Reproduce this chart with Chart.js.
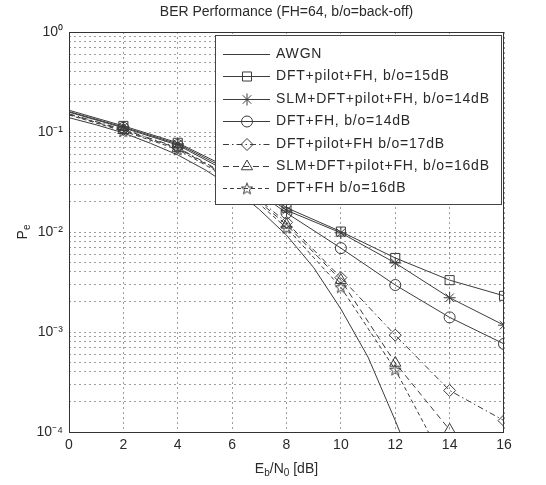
<!DOCTYPE html>
<html>
<head>
<meta charset="utf-8">
<script src="https://cdn.jsdelivr.net/npm/chart.js@4.4.1/dist/chart.umd.min.js"></script>
<style>
html,body{margin:0;padding:0;background:#fff;}
#wrap{width:546px;height:485px;position:relative;}
</style>
</head>
<body>
<div id="wrap"><canvas id="c" width="546" height="485"></canvas></div>
<script>
// ---------------- data ----------------
const chartTitle = 'BER Performance (FH=64, b/o=back-off)';
const snrDb = [0, 2, 4, 6, 8, 10, 12, 14, 16];
const xTickValues = [0, 2, 4, 6, 8, 10, 12, 14, 16];
const yDecadeLabels = ['10\u2070', '10\u207B\u00B9', '10\u207B\u00B2', '10\u207B\u00B3', '10\u207B\u2074'];

const awgnSnrDb = [0, 1, 2, 3, 4, 5, 6, 7, 8, 9, 10, 11, 12, 12.5];
const berAwgn   = [0.139, 0.118, 0.098, 0.077, 0.059, 0.042, 0.028, 0.0168, 0.0093, 0.0044, 0.0017, 0.00056, 0.00013, 0.00006];

const berPilot15 = [0.165, 0.115, 0.078, 0.042, 0.0175, 0.0101, 0.0055, 0.0033, 0.0023];
const berSlm14   = [0.160, 0.112, 0.076, 0.040, 0.0165, 0.0098, 0.0049, 0.0022, 0.00117];
const berDft14   = [0.158, 0.110, 0.074, 0.038, 0.0155, 0.0069, 0.00295, 0.0014, 0.00076];
const berPilot17 = [0.152, 0.106, 0.070, 0.035, 0.0125, 0.0035, 0.00093, 0.00026, 0.00013];
const berSlm16   = [0.150, 0.104, 0.069, 0.034, 0.0118, 0.0033, 0.00049, 0.000105, null];
const berDft16   = [0.148, 0.102, 0.067, 0.033, 0.0110, 0.0028, 0.00042, 0.00004, null];

const seriesNames = [
  'AWGN',
  'DFT+pilot+FH, b/o=15dB',
  'SLM+DFT+pilot+FH, b/o=14dB',
  'DFT+FH, b/o=14dB',
  'DFT+pilot+FH b/o=17dB',
  'SLM+DFT+pilot+FH, b/o=16dB',
  'DFT+FH b/o=16dB'
];

// ---------------- styling ----------------
const FONT = "'Liberation Sans', Arial, Helvetica, sans-serif";
const INK = '#2a2a2a';
const LINE = '#3c3c3c';

// pentagram marker image
function makePentagram(size, color) {
  const c = document.createElement('canvas');
  c.width = size; c.height = size;
  const g = c.getContext('2d');
  const cx = size / 2, cy = size / 2 + 0.5, R = size / 2 - 1, r = R * 0.42;
  g.beginPath();
  for (let i = 0; i < 10; i++) {
    const ang = -Math.PI / 2 + i * Math.PI / 5;
    const rr = i % 2 === 0 ? R : r;
    const px = cx + rr * Math.cos(ang), py = cy + rr * Math.sin(ang);
    if (i === 0) g.moveTo(px, py); else g.lineTo(px, py);
  }
  g.closePath();
  g.strokeStyle = color; g.lineWidth = 1; g.stroke();
  return c;
}
const pentagram = makePentagram(14, LINE);

function pts(xs, ys) { return xs.map((x, i) => ({ x: x, y: ys[i] })); }
const hideFirst = (r) => (ctx) => ctx.dataIndex === 0 ? 0 : r;

const styles = [
  { pointStyle: false, radius: 0, dash: [] },
  { pointStyle: 'rect', radius: 6.4, dash: [] },
  { pointStyle: 'star', radius: 6, dash: [] },
  { pointStyle: 'circle', radius: 5.5, dash: [] },
  { pointStyle: 'rectRot', radius: 6, dash: [6, 3, 1.5, 3] },
  { pointStyle: 'triangle', radius: 6.5, dash: [6, 4] },
  { pointStyle: pentagram, radius: 6, dash: [4, 3] }
];

const seriesData = [
  pts(awgnSnrDb, berAwgn),
  pts(snrDb, berPilot15),
  pts(snrDb, berSlm14),
  pts(snrDb, berDft14),
  pts(snrDb, berPilot17),
  pts(snrDb, berSlm16),
  pts(snrDb, berDft16)
];

const datasets = seriesData.map((d, i) => ({
  label: seriesNames[i],
  data: d,
  borderColor: LINE,
  borderWidth: 1,
  borderDash: styles[i].dash,
  pointStyle: styles[i].pointStyle || 'circle',
  pointRadius: i === 0 ? 0 : hideFirst(styles[i].radius),
  pointHoverRadius: 0,
  pointBorderColor: LINE,
  pointBackgroundColor: 'rgba(0,0,0,0)',
  pointBorderWidth: 1,
  tension: 0,
  spanGaps: false,
  fill: false
}));

// ---------------- helpers for sub/superscript text ----------------
function drawRich(ctx, parts, x, y, align, size, subSize) {
  let total = 0;
  parts.forEach(p => {
    ctx.font = (p.sub ? subSize : size) + 'px ' + FONT;
    p.w = ctx.measureText(p.t).width;
    total += p.w;
  });
  let cx = align === 'center' ? x - total / 2 : x;
  parts.forEach(p => {
    ctx.font = (p.sub ? subSize : size) + 'px ' + FONT;
    ctx.fillText(p.t, cx, p.sub ? y + size * 0.32 : y);
    cx += p.w;
  });
}

const decorPlugin = {
  id: 'decor',
  afterDatasetsDraw(chart) {
    const ctx = chart.ctx;
    const a = chart.chartArea;
    ctx.save();
    // legend box
    const L = { x0: 215, y0: 35, x1: a.right - 2, y1: 205 };
    ctx.fillStyle = '#fff';
    ctx.fillRect(L.x0, L.y0, L.x1 - L.x0, L.y1 - L.y0);
    ctx.strokeStyle = '#444';
    ctx.lineWidth = 1;
    ctx.setLineDash([]);
    ctx.strokeRect(L.x0 + 0.5, L.y0 + 0.5, L.x1 - L.x0 - 1, L.y1 - L.y0 - 1);
    for (let i = 0; i < seriesNames.length; i++) {
      const y = Math.round(54 + i * 22.4) + 0.5;
      ctx.strokeStyle = LINE;
      ctx.lineWidth = 1;
      ctx.setLineDash(styles[i].dash);
      ctx.beginPath();
      ctx.moveTo(223, y); ctx.lineTo(270, y);
      ctx.stroke();
      ctx.setLineDash([]);
      if (styles[i].pointStyle && Chart.helpers && Chart.helpers.drawPoint) {
        ctx.fillStyle = 'rgba(0,0,0,0)';
        ctx.strokeStyle = LINE;
        Chart.helpers.drawPoint(ctx, { pointStyle: styles[i].pointStyle, radius: styles[i].radius, rotation: 0, borderWidth: 1 }, 247, y);
      }
      ctx.fillStyle = INK;
      ctx.font = '14px ' + FONT;
      ctx.textAlign = 'left';
      ctx.textBaseline = 'middle';
      ctx.letterSpacing = '0.8px';
      ctx.fillText(seriesNames[i], 276, y);
      ctx.letterSpacing = '0px';
    }
    // plot frame
    ctx.strokeStyle = '#333';
    ctx.lineWidth = 1;
    ctx.strokeRect(Math.round(a.left) + 0.5, Math.round(a.top) + 0.5, Math.round(a.right - a.left) - 1, Math.round(a.bottom - a.top));
    ctx.restore();
  },
  afterDraw(chart) {
    const ctx = chart.ctx;
    const a = chart.chartArea;
    ctx.save();
    ctx.fillStyle = INK;
    ctx.textBaseline = 'middle';
    ctx.textAlign = 'left';
    // title
    ctx.font = '14px ' + FONT;
    const tw = ctx.measureText(chartTitle).width;
    ctx.fillText(chartTitle, (a.left + a.right) / 2 - tw / 2, 12);
    // x title  E_b/N_0 [dB]
    drawRich(ctx, [{ t: 'E' }, { t: 'b', sub: true }, { t: '/N' }, { t: '0', sub: true }, { t: ' [dB]' }],
      (a.left + a.right) / 2, 469, 'center', 14, 10);
    // y title  P_e
    ctx.translate(23, (a.top + a.bottom) / 2);
    ctx.rotate(-Math.PI / 2);
    drawRich(ctx, [{ t: 'P' }, { t: 'e', sub: true }], 0, 0, 'center', 14, 10);
    ctx.restore();
  }
};

new Chart(document.getElementById('c'), {
  type: 'line',
  data: { datasets: datasets },
  options: {
    responsive: false,
    animation: false,
    events: [],
    layout: { padding: { top: 32, right: 42, bottom: 0, left: 0 } },
    plugins: {
      legend: { display: false },
      title: { display: false },
      tooltip: { enabled: false }
    },
    scales: {
      x: {
        type: 'linear',
        min: 0, max: 16,
        afterFit(s) { s.height = 53; },
        afterBuildTicks(s) { s.ticks = xTickValues.map(v => ({ value: v })); },
        ticks: { color: INK, font: { family: FONT, size: 14 }, padding: 5, callback: v => String(v) },
        grid: { color: 'rgba(0,0,0,0.38)', lineWidth: 1, drawTicks: false },
        border: { display: false, dash: [2, 3] }
      },
      y: {
        type: 'logarithmic',
        min: 1e-4, max: 1,
        afterFit(s) { s.width = 69; },
        afterBuildTicks(s) {
          const t = [];
          for (let e = -4; e < 0; e++) for (let m = 1; m <= 9; m++) t.push({ value: m * Math.pow(10, e) });
          t.push({ value: 1 });
          s.ticks = t;
        },
        ticks: {
          autoSkip: false,
          color: INK,
          font: { family: FONT, size: 14 },
          padding: 6,
          callback: (v) => {
            const e = Math.log10(v);
            const r = Math.round(e);
            return Math.abs(e - r) < 1e-6 ? yDecadeLabels[-r] : '';
          }
        },
        grid: { color: 'rgba(0,0,0,0.38)', lineWidth: 1, drawTicks: false },
        border: { display: false, dash: [2, 3] }
      }
    }
  },
  plugins: [decorPlugin]
});
</script>
</body>
</html>
